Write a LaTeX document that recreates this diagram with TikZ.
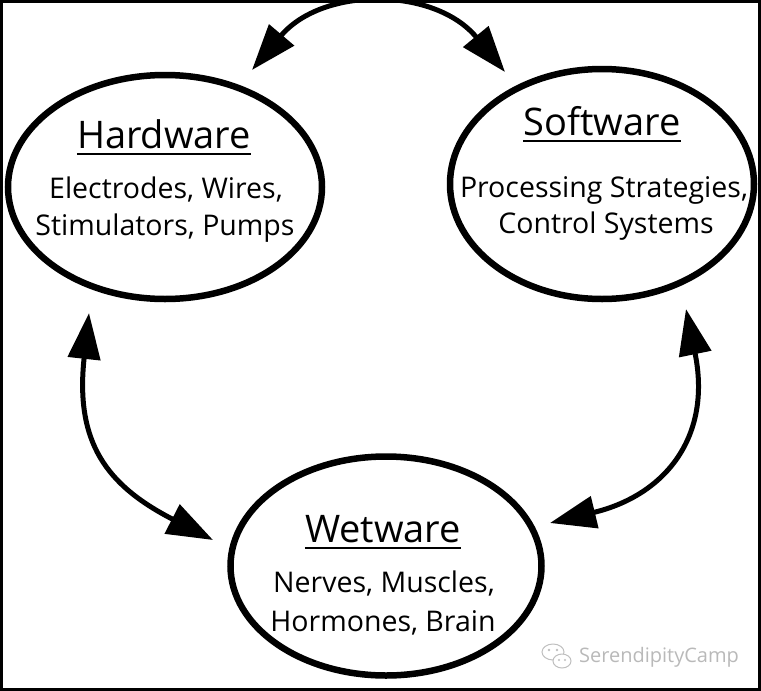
\documentclass[tikz,border=0pt]{standalone}
\usepackage{fontspec}
\setmainfont{Open Sans}
\usepackage{tikz}
\usetikzlibrary{shapes.geometric,arrows.meta}

\begin{document}
\begin{tikzpicture}[x=1pt,y=-1pt,
    bubble/.style={draw,ellipse,line width=6.5pt,inner sep=0pt},
    ttl/.style={inner sep=0pt,anchor=base,font=\fontsize{38}{40}\selectfont},
    txt/.style={inner sep=0pt,anchor=base,font=\fontsize{28.5}{30}\selectfont},
    uline/.style={line width=2.4pt},
    link/.style={line width=5pt,{Triangle[length=46pt,width=32pt]}-{Triangle[length=46pt,width=32pt]}},
    wm/.style={gray!55,font=\fontsize{20}{22}\selectfont,inner sep=0pt}]
    \useasboundingbox (0,0) rectangle (761,691);
    \draw[line width=3pt] (1.5,1.5) rectangle (759.5,689.5);

    \node[bubble,minimum width=314pt,minimum height=224pt] (hw) at (165,187) {};
    \node[bubble,minimum width=304pt,minimum height=230pt] (sw) at (602,184) {};
    \node[bubble,minimum width=311pt,minimum height=219pt] (ww) at (386,566) {};

    \node[ttl] (hwt) at (164,148) {Hardware};
    \node[txt] (hw1) at (166,198) {Electrodes, Wires,};
    \node[txt] (hw2) at (165,235) {Stimulators, Pumps};
    \node[ttl] (swt) at (602,135) {Software};
    \node[txt] (sw1) at (604,197) {Processing Strategies,};
    \node[txt] (sw2) at (606,233) {Control Systems};
    \node[ttl] (wwt) at (383,542) {Wetware};
    \node[txt] (ww1) at (384,592) {Nerves, Muscles,};
    \node[txt] (ww2) at (383,631) {Hormones, Brain};
    \foreach \t in {hwt,swt,wwt}
      \draw[uline] ([yshift=-6pt]\t.base west) -- ([yshift=-6pt]\t.base east);

    \coordinate (hwS) at (252,70);
    \coordinate (swH) at (505,72);
    \coordinate (hwW) at (89,313);
    \coordinate (wwH) at (213,540);
    \coordinate (swW) at (686,309);
    \coordinate (wwS) at (550,523);
    \draw[link] (hwS) .. controls (323,-14) and (435,-13) .. (swH);
    \draw[link] (hwW) .. controls (75,442) and (106,485) .. (wwH);
    \draw[link] (swW) .. controls (712,436) and (666,495) .. (wwS);

    \node[wm] (wmk) at (659,657) {SerendipityCamp};
    \draw[gray!50,line width=1pt] (553,652) ellipse (11 and 8);
    \draw[gray!50,line width=1pt,fill=white] (562,661) ellipse (9 and 7);
    \fill[gray!50] (549,650) circle (1.3) (557,650) circle (1.3)
      (559,660) circle (1.1) (565,660) circle (1.1);
\end{tikzpicture}
\end{document}
